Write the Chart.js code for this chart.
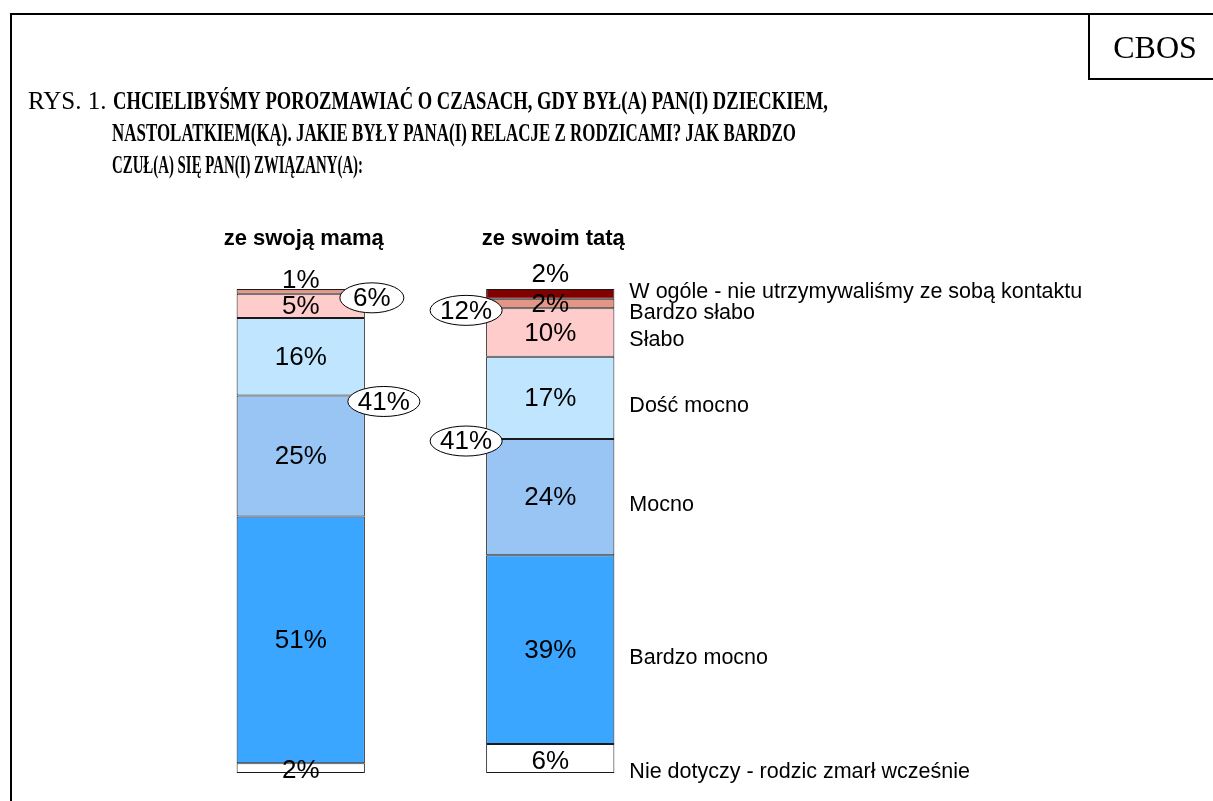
<!DOCTYPE html>
<html>
<head>
<meta charset="utf-8">
<script src="https://cdn.jsdelivr.net/npm/chart.js@4"></script>
<style>
  body { margin: 0; background: #fff; }
  canvas { display: block; }
</style>
</head>
<body>
<canvas id="relChart" width="1213" height="801"></canvas>
<script>
const categories = ['ze swoją mamą', 'ze swoim tatą'];
// from the bottom of the bar to the top
const seriesNames = [
    'Nie dotyczy - rodzic zmarł wcześnie',
    'Bardzo mocno',
    'Mocno',
    'Dość mocno',
    'Słabo',
    'Bardzo słabo',
    'W ogóle - nie utrzymywaliśmy ze sobą kontaktu'
];
const mamaValues = [2, 51, 25, 16, 5, 1, 0];
const tataValues = [6, 39, 24, 17, 10, 2, 2];
const seriesColors = ['#ffffff', '#3aa6ff', '#99c5f5', '#c0e6ff', '#ffcccc', '#e39586', '#800000'];

const titleLines = [
    'CHCIELIBYŚMY POROZMAWIAĆ O CZASACH, GDY BYŁ(A) PAN(I) DZIECKIEM,',
    'NASTOLATKIEM(KĄ). JAKIE BYŁY PANA(I) RELACJE Z RODZICAMI? JAK BARDZO',
    'CZUŁ(A) SIĘ PAN(I) ZWIĄZANY(A):'
];

const SANS = 'Arial, "Liberation Sans", sans-serif';
const SERIF = '"Times New Roman", "Liberation Serif", serif';

const ctx = document.getElementById('relChart').getContext('2d');

const datasets = seriesNames.map((name, i) => ({
    label: name,
    data: [mamaValues[i], tataValues[i]],
    backgroundColor: seriesColors[i],
    borderColor: '#1a1a1a',
    borderWidth: 1,
    borderSkipped: false,
    categoryPercentage: 1,
    barPercentage: 0.514
}));

function drawEllipse(c, x, y, text) {
    c.font = '26px ' + SANS;
    const tw = c.measureText(text).width;
    const rx = Math.max(tw / 2 + 10, 32);
    c.beginPath();
    c.ellipse(x, y, rx, 15, 0, 0, Math.PI * 2);
    c.fillStyle = '#fff';
    c.fill();
    c.lineWidth = 1;
    c.strokeStyle = '#000';
    c.stroke();
    c.fillStyle = '#000';
    c.textAlign = 'center';
    c.textBaseline = 'middle';
    c.fillText(text, x, y + 1);
}

const decorations = {
    id: 'decorations',
    afterDraw(chart) {
        const c = chart.ctx;
        c.save();

        // frame and CBOS box
        c.strokeStyle = '#000';
        c.lineWidth = 2;
        c.beginPath();
        c.moveTo(11, 801);
        c.lineTo(11, 14);
        c.lineTo(1213, 14);
        c.moveTo(1089, 14);
        c.lineTo(1089, 79);
        c.lineTo(1213, 79);
        c.stroke();

        c.fillStyle = '#000';
        c.textAlign = 'center';
        c.textBaseline = 'alphabetic';
        c.font = '32px ' + SERIF;
        c.fillText('CBOS', 1155, 58);

        // title
        c.textAlign = 'left';
        c.font = '25px ' + SERIF;
        c.fillText('RYS. 1.', 28, 109, 80);
        c.font = 'bold 26px ' + SERIF;
        c.fillText(titleLines[0], 113, 109, 715);
        c.fillText(titleLines[1], 112, 141, 684);
        c.fillText(titleLines[2], 112, 173, 251);

        // category labels above bars
        const first = chart.getDatasetMeta(0).data;
        c.textAlign = 'center';
        c.textBaseline = 'middle';
        c.font = 'bold 22px ' + SANS;
        categories.forEach((cat, j) => {
            c.fillText(cat, first[j].x + 3, 239);
        });

        // values inside the segments
        c.font = '26px ' + SANS;
        categories.forEach((cat, j) => {
            let topIdx = -1;
            chart.data.datasets.forEach((ds, i) => { if (ds.data[j] > 0) topIdx = i; });
            chart.data.datasets.forEach((ds, i) => {
                const v = ds.data[j];
                if (!v) return;
                const el = chart.getDatasetMeta(i).data[j];
                let y = (el.y + el.base) / 2 + 1;
                if (i === topIdx && v <= 2) y = el.y - 2 - 6 * v;
                if (i === 0) y = (el.y + el.base) / 2 + 3;
                c.fillText(v + '%', el.x, y);
            });
        });

        // sums in ellipses
        const mamaWeak = mamaValues[4] + mamaValues[5];
        const tataWeak = tataValues[4] + tataValues[5];
        const mamaStrong = mamaValues[2] + mamaValues[3];
        const tataStrong = tataValues[2] + tataValues[3];
        const weakMeta = chart.getDatasetMeta(4).data;
        const strongMeta = chart.getDatasetMeta(2).data;
        const halfW = weakMeta[0].width / 2;
        drawEllipse(c, weakMeta[0].x + halfW + 7, weakMeta[0].y + 4, mamaWeak + '%');
        drawEllipse(c, strongMeta[0].x + halfW + 19, strongMeta[0].y + 6, mamaStrong + '%');
        drawEllipse(c, weakMeta[1].x - halfW - 20, weakMeta[1].y + 2, tataWeak + '%');
        drawEllipse(c, strongMeta[1].x - halfW - 20, strongMeta[1].y + 2, tataStrong + '%');

        // series names next to the second bar
        c.textAlign = 'left';
        c.textBaseline = 'middle';
        c.font = '21.5px ' + SANS;
        const n = seriesNames.length;
        let prevY = 0;
        for (let i = n - 1; i >= 0; i--) {
            const el = chart.getDatasetMeta(i).data[1];
            let y;
            if (i === n - 1) y = el.y + 3;
            else if (i === 0) y = el.base - 1;
            else y = Math.max((el.y + el.base) / 2 + 8, prevY + 21);
            prevY = y;
            c.fillText(seriesNames[i], el.x + el.width / 2 + 15, y);
        }

        c.restore();
    }
};

new Chart(ctx, {
    type: 'bar',
    data: { labels: categories, datasets: datasets },
    options: {
        responsive: false,
        animation: false,
        devicePixelRatio: 1,
        layout: { padding: { left: 176, right: 538, top: 289, bottom: 28 } },
        scales: {
            x: { stacked: true, display: false },
            y: { stacked: true, display: false, min: 0, max: 100 }
        },
        plugins: {
            legend: { display: false },
            tooltip: { enabled: false }
        }
    },
    plugins: [decorations]
});
</script>
</body>
</html>
